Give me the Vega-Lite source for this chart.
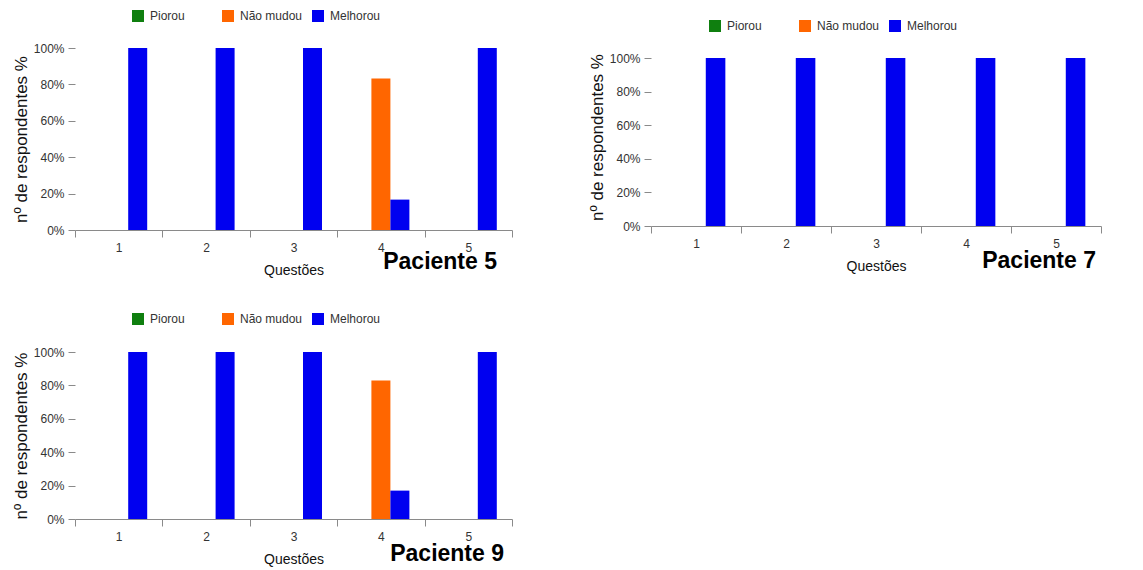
{
  "$schema": "https://vega.github.io/schema/vega-lite/v6.json",
  "background": "white",
  "padding": {"left": 12, "top": 10, "right": 5, "bottom": 5},
  "datasets": {
    "p5": [
      {"questao": "1", "resposta": "Piorou", "valor": 0},
      {"questao": "1", "resposta": "Não mudou", "valor": 0},
      {"questao": "1", "resposta": "Melhorou", "valor": 1},
      {"questao": "2", "resposta": "Piorou", "valor": 0},
      {"questao": "2", "resposta": "Não mudou", "valor": 0},
      {"questao": "2", "resposta": "Melhorou", "valor": 1},
      {"questao": "3", "resposta": "Piorou", "valor": 0},
      {"questao": "3", "resposta": "Não mudou", "valor": 0},
      {"questao": "3", "resposta": "Melhorou", "valor": 1},
      {"questao": "4", "resposta": "Piorou", "valor": 0},
      {"questao": "4", "resposta": "Não mudou", "valor": 0.833},
      {"questao": "4", "resposta": "Melhorou", "valor": 0.167},
      {"questao": "5", "resposta": "Piorou", "valor": 0},
      {"questao": "5", "resposta": "Não mudou", "valor": 0},
      {"questao": "5", "resposta": "Melhorou", "valor": 1}
    ],
    "p7": [
      {"questao": "1", "resposta": "Piorou", "valor": 0},
      {"questao": "1", "resposta": "Não mudou", "valor": 0},
      {"questao": "1", "resposta": "Melhorou", "valor": 1},
      {"questao": "2", "resposta": "Piorou", "valor": 0},
      {"questao": "2", "resposta": "Não mudou", "valor": 0},
      {"questao": "2", "resposta": "Melhorou", "valor": 1},
      {"questao": "3", "resposta": "Piorou", "valor": 0},
      {"questao": "3", "resposta": "Não mudou", "valor": 0},
      {"questao": "3", "resposta": "Melhorou", "valor": 1},
      {"questao": "4", "resposta": "Piorou", "valor": 0},
      {"questao": "4", "resposta": "Não mudou", "valor": 0},
      {"questao": "4", "resposta": "Melhorou", "valor": 1},
      {"questao": "5", "resposta": "Piorou", "valor": 0},
      {"questao": "5", "resposta": "Não mudou", "valor": 0},
      {"questao": "5", "resposta": "Melhorou", "valor": 1}
    ],
    "p9": [
      {"questao": "1", "resposta": "Piorou", "valor": 0},
      {"questao": "1", "resposta": "Não mudou", "valor": 0},
      {"questao": "1", "resposta": "Melhorou", "valor": 1},
      {"questao": "2", "resposta": "Piorou", "valor": 0},
      {"questao": "2", "resposta": "Não mudou", "valor": 0},
      {"questao": "2", "resposta": "Melhorou", "valor": 1},
      {"questao": "3", "resposta": "Piorou", "valor": 0},
      {"questao": "3", "resposta": "Não mudou", "valor": 0},
      {"questao": "3", "resposta": "Melhorou", "valor": 1},
      {"questao": "4", "resposta": "Piorou", "valor": 0},
      {"questao": "4", "resposta": "Não mudou", "valor": 0.83},
      {"questao": "4", "resposta": "Melhorou", "valor": 0.17},
      {"questao": "5", "resposta": "Piorou", "valor": 0},
      {"questao": "5", "resposta": "Não mudou", "valor": 0},
      {"questao": "5", "resposta": "Melhorou", "valor": 1}
    ]
  },
  "config": {
    "view": {"stroke": null},
    "font": "Liberation Sans",
    "axis": {
      "labelFont": "Liberation Sans", "labelFontSize": 12, "labelColor": "#333",
      "titleFont": "Liberation Sans", "titleFontWeight": "normal", "titleColor": "#111",
      "domainColor": "#8a8a8a", "tickColor": "#8a8a8a", "grid": false
    },
    "axisX": {"labelAngle": 0, "tickBand": "extent", "tickSize": 7, "labelPadding": 5, "titlePadding": 10, "titleFontSize": 14},
    "axisY": {"domain": false, "tickSize": 7, "labelPadding": 4, "titleFontSize": 17, "titlePadding": 3},
    "legend": {
      "orient": "none", "direction": "horizontal", "columns": 3, "gridAlign": "all",
      "symbolType": "square", "symbolSize": 144, "symbolStrokeWidth": 0, "symbolOffset": 0,
      "labelFont": "Liberation Sans", "labelFontSize": 12, "labelColor": "#333", "labelOffset": 6,
      "columnPadding": 9, "padding": 0
    },
    "title": {"orient": "bottom", "anchor": "end", "frame": "group", "font": "Liberation Sans", "fontSize": 23, "fontWeight": "bold", "color": "#000"}
  },
  "spacing": 36,
  "resolve": {"scale": {"color": "independent", "x": "independent", "y": "independent", "xOffset": "independent"}, "legend": {"color": "independent"}},
  "vconcat": [
    {
      "spacing": 75,
      "resolve": {"scale": {"color": "independent", "x": "independent", "y": "independent", "xOffset": "independent"}, "legend": {"color": "independent"}},
      "hconcat": [
        {
          "width": 437, "height": 182,
          "data": {"name": "p5"},
          "title": {"text": "Paciente 5", "dx": -15, "offset": -26},
          "mark": {"type": "bar"},
          "encoding": {
            "x": {"field": "questao", "type": "nominal", "title": "Questões", "scale": {"paddingInner": 0, "paddingOuter": 0}},
            "xOffset": {"field": "resposta", "type": "nominal", "sort": ["Piorou", "Não mudou", "Melhorou"], "scale": {"paddingInner": 0, "paddingOuter": 0.8}},
            "y": {"field": "valor", "type": "quantitative", "title": "nº de respondentes %", "scale": {"domain": [0, 1], "nice": false}, "axis": {"format": "%", "values": [0, 0.2, 0.4, 0.6, 0.8, 1]}},
            "color": {"field": "resposta", "type": "nominal", "sort": ["Piorou", "Não mudou", "Melhorou"], "scale": {"domain": ["Piorou", "Não mudou", "Melhorou"], "range": ["#0f7f0f", "#ff6600", "#0000f0"]}, "legend": {"title": null, "legendX": 57, "legendY": -38}}
          }
        },
        {
          "width": 450, "height": 178,
          "data": {"name": "p7"},
          "title": {"text": "Paciente 7", "dx": -5, "offset": -23},
          "mark": {"type": "bar"},
          "encoding": {
            "x": {"field": "questao", "type": "nominal", "title": "Questões", "scale": {"paddingInner": 0, "paddingOuter": 0}},
            "xOffset": {"field": "resposta", "type": "nominal", "sort": ["Piorou", "Não mudou", "Melhorou"], "scale": {"paddingInner": 0, "paddingOuter": 0.8}},
            "y": {"field": "valor", "type": "quantitative", "title": "nº de respondentes %", "scale": {"domain": [0, 1.06], "nice": false}, "axis": {"format": "%", "values": [0, 0.2, 0.4, 0.6, 0.8, 1]}},
            "color": {"field": "resposta", "type": "nominal", "sort": ["Piorou", "Não mudou", "Melhorou"], "scale": {"domain": ["Piorou", "Não mudou", "Melhorou"], "range": ["#0f7f0f", "#ff6600", "#0000f0"]}, "legend": {"title": null, "legendX": 58, "legendY": -28}}
          }
        }
      ]
    },
    {
      "width": 437, "height": 167,
      "data": {"name": "p9"},
      "title": {"text": "Paciente 9", "dx": -8, "offset": -23},
      "mark": {"type": "bar"},
      "encoding": {
        "x": {"field": "questao", "type": "nominal", "title": "Questões", "scale": {"paddingInner": 0, "paddingOuter": 0}},
        "xOffset": {"field": "resposta", "type": "nominal", "sort": ["Piorou", "Não mudou", "Melhorou"], "scale": {"paddingInner": 0, "paddingOuter": 0.8}},
        "y": {"field": "valor", "type": "quantitative", "title": "nº de respondentes %", "scale": {"domain": [0, 1], "nice": false}, "axis": {"format": "%", "values": [0, 0.2, 0.4, 0.6, 0.8, 1]}},
        "color": {"field": "resposta", "type": "nominal", "sort": ["Piorou", "Não mudou", "Melhorou"], "scale": {"domain": ["Piorou", "Não mudou", "Melhorou"], "range": ["#0f7f0f", "#ff6600", "#0000f0"]}, "legend": {"title": null, "legendX": 57, "legendY": -39}}
      }
    }
  ]
}
